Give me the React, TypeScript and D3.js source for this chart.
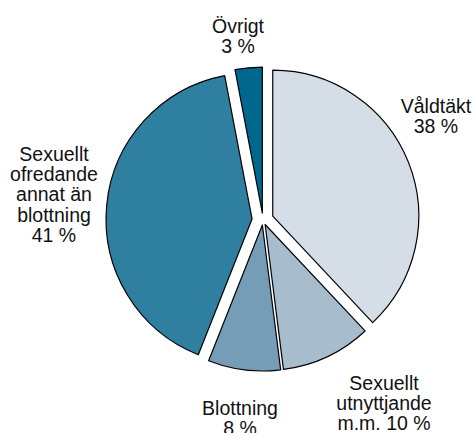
import React from "react";
import * as d3 from "d3";

const categories = [
  "Våldtäkt",
  "Sexuellt utnyttjande m.m.",
  "Blottning",
  "Sexuellt ofredande annat än blottning",
  "Övrigt",
];
const values = [38, 10, 8, 41, 3];
const labelLines = [
  ["Våldtäkt", "38 %"],
  ["Sexuellt", "utnyttjande", "m.m. 10 %"],
  ["Blottning", "8 %"],
  ["Sexuellt", "ofredande", "annat än", "blottning", "41 %"],
  ["Övrigt", "3 %"],
];
const colors = ["#d5dde6", "#a7bccd", "#769db8", "#2e7fa0", "#00688c"];

export default function App() {
  const W = 476;
  const H = 433;
  const cx = 263;
  const cy = 220;
  const r = 146;
  const explode = [10.5, 5, 5, 11, 7];
  // label anchor: [x, first baseline]
  const labelPos: [number, number][] = [
    [436, 113],
    [384, 390],
    [240, 415],
    [54, 161],
    [238, 33],
  ];
  const lineH = 20.2;

  const pie = d3
    .pie<number>()
    .sort(null)
    .value((d) => d)
    .startAngle(0)
    .endAngle(2 * Math.PI);
  const arcs = pie(values);
  const arc = d3.arc<d3.PieArcDatum<number>>().innerRadius(0).outerRadius(r);

  return (
    <svg
      width={W}
      height={H}
      style={{ position: "absolute", left: 0, top: 0, background: "#fff" }}
    >
      <g transform={`translate(${cx},${cy})`}>
        {arcs.map((a, i) => {
          const mid = (a.startAngle + a.endAngle) / 2;
          const dx = Math.sin(mid) * explode[i];
          const dy = -Math.cos(mid) * explode[i];
          return (
            <path
              key={categories[i]}
              d={arc(a) || ""}
              transform={`translate(${dx},${dy})`}
              fill={colors[i]}
              stroke="#000"
              strokeWidth={1.2}
              strokeLinejoin="round"
            />
          );
        })}
      </g>
      {labelLines.map((lines, i) => (
        <text
          key={categories[i]}
          x={labelPos[i][0]}
          y={labelPos[i][1]}
          textAnchor="middle"
          fontFamily="'Liberation Sans', Arial, Helvetica, sans-serif"
          fontSize={19.5}
          fill="#111"
        >
          {lines.map((l, j) => (
            <tspan key={j} x={labelPos[i][0]} dy={j === 0 ? 0 : lineH}>
              {l}
            </tspan>
          ))}
        </text>
      ))}
    </svg>
  );
}
